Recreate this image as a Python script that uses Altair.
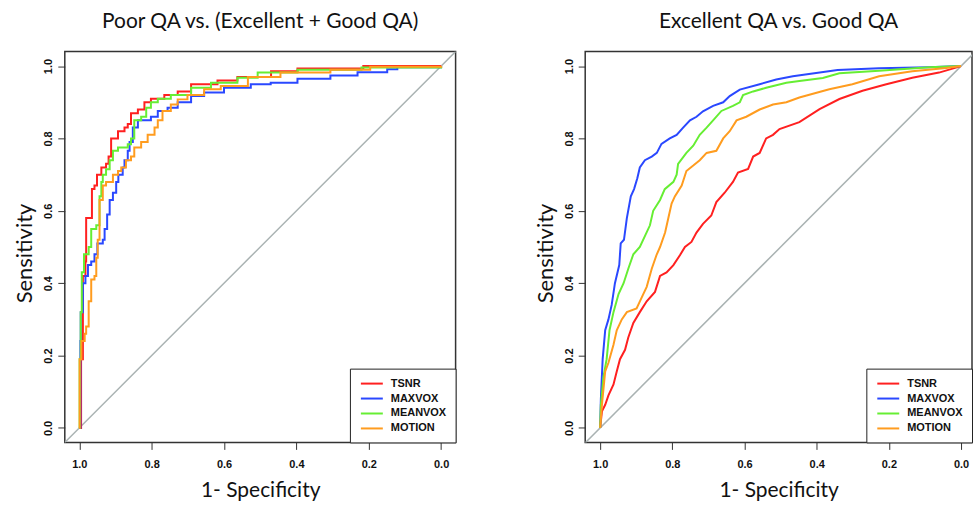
import altair as alt
import pandas as pd

series = ["TSNR", "MAXVOX", "MEANVOX", "MOTION"]
colors = ["#ff2020", "#2a48ff", "#66ee33", "#ff9c1f"]
ticks = [1.0, 0.8, 0.6, 0.4, 0.2, 0.0]

# ---- Left panel: Poor QA vs. (Excellent + Good QA) ----
l_tsnr_spec = [1.0, 0.995, 0.995, 0.99, 0.99, 0.983, 0.981, 0.967, 0.965, 0.958, 0.951, 0.939, 0.926, 0.919, 0.912, 0.893, 0.875, 0.866, 0.857, 0.838, 0.820, 0.802, 0.765, 0.728, 0.691, 0.618, 0.563, 0.47, 0.397, 0.215, 0.0]
l_tsnr_sens = [0.0, 0.08, 0.19, 0.24, 0.42, 0.46, 0.58, 0.58, 0.66, 0.67, 0.70, 0.72, 0.73, 0.75, 0.80, 0.82, 0.83, 0.84, 0.87, 0.88, 0.90, 0.91, 0.92, 0.93, 0.95, 0.96, 0.97, 0.986, 0.993, 1.0, 1.0]

l_maxvox_spec = [1.0, 0.997, 0.996, 0.99, 0.983, 0.976, 0.967, 0.958, 0.950, 0.935, 0.930, 0.923, 0.916, 0.907, 0.898, 0.892, 0.880, 0.875, 0.866, 0.861, 0.852, 0.838, 0.802, 0.783, 0.756, 0.728, 0.691, 0.655, 0.600, 0.526, 0.471, 0.397, 0.306, 0.231, 0.149, 0.121, 0.0]
l_maxvox_sens = [0.0, 0.24, 0.32, 0.40, 0.42, 0.45, 0.46, 0.48, 0.51, 0.52, 0.55, 0.59, 0.63, 0.65, 0.68, 0.70, 0.72, 0.74, 0.766, 0.79, 0.83, 0.85, 0.86, 0.876, 0.885, 0.90, 0.917, 0.927, 0.94, 0.95, 0.954, 0.965, 0.974, 0.983, 0.991, 0.997, 1.0]

l_meanvox_spec = [1.0, 0.999, 0.996, 0.993, 0.987, 0.976, 0.974, 0.967, 0.953, 0.944, 0.939, 0.935, 0.926, 0.916, 0.907, 0.893, 0.866, 0.857, 0.848, 0.829, 0.815, 0.802, 0.783, 0.747, 0.691, 0.636, 0.563, 0.507, 0.397, 0.22, 0.0]
l_meanvox_sens = [0.0, 0.19, 0.32, 0.43, 0.48, 0.48, 0.50, 0.55, 0.56, 0.64, 0.68, 0.70, 0.715, 0.74, 0.766, 0.775, 0.784, 0.80, 0.85, 0.86, 0.885, 0.90, 0.91, 0.92, 0.94, 0.954, 0.968, 0.982, 0.99, 0.996, 1.0]

l_motion_spec = [1.0, 0.999, 0.994, 0.985, 0.981, 0.974, 0.967, 0.958, 0.953, 0.949, 0.944, 0.935, 0.926, 0.907, 0.893, 0.884, 0.871, 0.857, 0.848, 0.829, 0.811, 0.792, 0.783, 0.770, 0.747, 0.728, 0.701, 0.655, 0.609, 0.534, 0.444, 0.306, 0.196, 0.0]
l_motion_sens = [0.0, 0.19, 0.24, 0.26, 0.28, 0.35, 0.41, 0.42, 0.47, 0.52, 0.63, 0.67, 0.68, 0.70, 0.71, 0.72, 0.74, 0.75, 0.775, 0.79, 0.81, 0.83, 0.85, 0.876, 0.894, 0.908, 0.92, 0.936, 0.945, 0.970, 0.982, 0.990, 0.998, 1.0]

# ---- Right panel: Excellent QA vs. Good QA ----
r_tsnr_spec = [1.0, 0.995, 0.986, 0.977, 0.963, 0.954, 0.945, 0.931, 0.922, 0.908, 0.890, 0.871, 0.848, 0.834, 0.816, 0.797, 0.779, 0.765, 0.747, 0.733, 0.715, 0.692, 0.678, 0.655, 0.632, 0.618, 0.590, 0.576, 0.558, 0.540, 0.521, 0.503, 0.448, 0.392, 0.337, 0.273, 0.207, 0.135, 0.061, 0.0]
r_tsnr_sens = [0.0, 0.046, 0.064, 0.09, 0.12, 0.156, 0.19, 0.216, 0.25, 0.29, 0.32, 0.35, 0.376, 0.42, 0.43, 0.45, 0.477, 0.50, 0.514, 0.54, 0.564, 0.587, 0.624, 0.65, 0.68, 0.706, 0.716, 0.75, 0.76, 0.80, 0.81, 0.826, 0.845, 0.881, 0.909, 0.932, 0.950, 0.968, 0.982, 1.0]

r_maxvox_spec = [1.0, 0.998, 0.993, 0.986, 0.977, 0.968, 0.959, 0.947, 0.943, 0.934, 0.926, 0.915, 0.906, 0.897, 0.890, 0.876, 0.857, 0.843, 0.830, 0.807, 0.788, 0.770, 0.751, 0.733, 0.715, 0.687, 0.659, 0.641, 0.613, 0.558, 0.512, 0.466, 0.342, 0.227, 0.088, 0.0]
r_maxvox_sens = [0.0, 0.08, 0.19, 0.27, 0.30, 0.34, 0.40, 0.45, 0.51, 0.52, 0.58, 0.64, 0.66, 0.69, 0.72, 0.74, 0.75, 0.76, 0.785, 0.80, 0.81, 0.83, 0.85, 0.86, 0.875, 0.89, 0.90, 0.917, 0.935, 0.95, 0.963, 0.972, 0.989, 0.994, 0.997, 1.0]

r_meanvox_spec = [1.0, 0.998, 0.991, 0.982, 0.974, 0.963, 0.949, 0.935, 0.922, 0.908, 0.890, 0.876, 0.862, 0.853, 0.834, 0.821, 0.797, 0.788, 0.784, 0.761, 0.742, 0.724, 0.705, 0.687, 0.664, 0.632, 0.613, 0.604, 0.576, 0.540, 0.484, 0.448, 0.383, 0.337, 0.227, 0.088, 0.0]
r_meanvox_sens = [0.0, 0.064, 0.14, 0.19, 0.27, 0.32, 0.37, 0.40, 0.44, 0.48, 0.50, 0.53, 0.56, 0.60, 0.63, 0.66, 0.68, 0.70, 0.73, 0.76, 0.78, 0.81, 0.83, 0.85, 0.876, 0.89, 0.90, 0.92, 0.93, 0.94, 0.954, 0.959, 0.967, 0.980, 0.987, 0.997, 1.0]

r_motion_spec = [1.0, 0.995, 0.986, 0.977, 0.963, 0.954, 0.940, 0.926, 0.899, 0.885, 0.871, 0.857, 0.843, 0.834, 0.820, 0.811, 0.802, 0.793, 0.774, 0.761, 0.742, 0.724, 0.705, 0.678, 0.659, 0.641, 0.622, 0.595, 0.558, 0.521, 0.484, 0.448, 0.365, 0.301, 0.227, 0.135, 0.041, 0.0]
r_motion_sens = [0.0, 0.064, 0.156, 0.18, 0.23, 0.27, 0.30, 0.32, 0.33, 0.36, 0.39, 0.44, 0.48, 0.50, 0.54, 0.58, 0.62, 0.64, 0.67, 0.71, 0.725, 0.74, 0.76, 0.766, 0.80, 0.82, 0.85, 0.86, 0.88, 0.894, 0.90, 0.913, 0.936, 0.950, 0.972, 0.986, 0.995, 1.0]

diag_spec = [1.2, -0.2]
diag_sens = [-0.2, 1.2]


def make_df(pairs):
    rows = []
    for name, (sp, se) in zip(series, pairs):
        for i, (a, b) in enumerate(zip(sp, se)):
            rows.append({"series": name, "spec": a, "sens": b, "idx": i})
    return pd.DataFrame(rows)


left_df = make_df([(l_tsnr_spec, l_tsnr_sens), (l_maxvox_spec, l_maxvox_sens),
                   (l_meanvox_spec, l_meanvox_sens), (l_motion_spec, l_motion_sens)])
right_df = make_df([(r_tsnr_spec, r_tsnr_sens), (r_maxvox_spec, r_maxvox_sens),
                    (r_meanvox_spec, r_meanvox_sens), (r_motion_spec, r_motion_sens)])
diag_df = pd.DataFrame({"spec": diag_spec, "sens": diag_sens})

TICK_FONT = "Liberation Sans"
TITLE_FONT = "Lato"


def panel(df, title, xdomain, width, interp):
    xs = alt.Scale(domain=xdomain, reverse=True, nice=False, zero=False)
    ys = alt.Scale(domain=[-0.04, 1.04], nice=False, zero=False)
    xaxis = alt.Axis(values=ticks, format=".1f", title="1- Specificity", domain=False, grid=False,
                     tickSize=7, tickColor="#333", tickWidth=1, labelPadding=9,
                     labelFont=TICK_FONT, labelFontSize=11, labelFontWeight="bold", labelColor="#111",
                     titleFont=TITLE_FONT, titleFontSize=21, titleFontWeight="normal", titleColor="#111",
                     titleY=54, titleBaseline="alphabetic")
    yaxis = alt.Axis(values=ticks, format=".1f", title="Sensitivity", domain=False, grid=False,
                     tickSize=7, tickColor="#333", tickWidth=1, labelPadding=6,
                     labelAngle=270, labelAlign="center", labelBaseline="alphabetic",
                     labelFont=TICK_FONT, labelFontSize=11, labelFontWeight="bold", labelColor="#111",
                     titleFont=TITLE_FONT, titleFontSize=22, titleFontWeight="normal", titleColor="#111",
                     titleAngle=270, titleX=-33, titleY=202, titleAlign="center", titleBaseline="alphabetic")
    diag = alt.Chart(diag_df).mark_line(color="#a9b2b2", strokeWidth=1.5, clip=True).encode(
        x=alt.X("spec:Q", scale=xs, axis=xaxis),
        y=alt.Y("sens:Q", scale=ys, axis=yaxis),
    )
    lines = alt.Chart(df).mark_line(strokeWidth=2, clip=True, interpolate=interp).encode(
        x=alt.X("spec:Q", scale=xs, axis=xaxis),
        y=alt.Y("sens:Q", scale=ys, axis=yaxis),
        order=alt.Order("idx:Q"),
        color=alt.Color("series:N", scale=alt.Scale(domain=series, range=colors),
                        sort=series,
                        legend=alt.Legend(title=None, orient="bottom-right", offset=0, padding=9,
                                          strokeColor="#222", fillColor="white", cornerRadius=0,
                                          symbolType="M-0.8,0H3.6", symbolSize=100, symbolStrokeWidth=2,
                                          labelFont=TICK_FONT, labelFontSize=11, labelFontWeight="bold",
                                          labelColor="#111", labelOffset=20, rowPadding=4)),
    )
    return alt.layer(diag, lines).properties(
        width=width, height=392,
        title=alt.Title(title, font=TITLE_FONT, fontSize=21, fontWeight="normal", color="#111",
                        anchor="middle", offset=3, baseline="alphabetic"),
    )


left = panel(left_df, "Poor QA vs. (Excellent + Good QA)", [-0.04, 1.04], 392, "step-after")
right = panel(right_df, "Excellent QA vs. Good QA", [-0.0304, 1.0414], 388, "linear")

chart = alt.hconcat(left, right, spacing=130, bounds="flush").resolve_scale(
    color="independent").resolve_legend(color="independent").configure_view(
    stroke="#333", strokeWidth=1.5).properties(
    padding={"left": 13, "top": 9, "right": 0, "bottom": 0}, background="white")

chart.save("out.html", embed_options={"renderer": "svg", "actions": False})
